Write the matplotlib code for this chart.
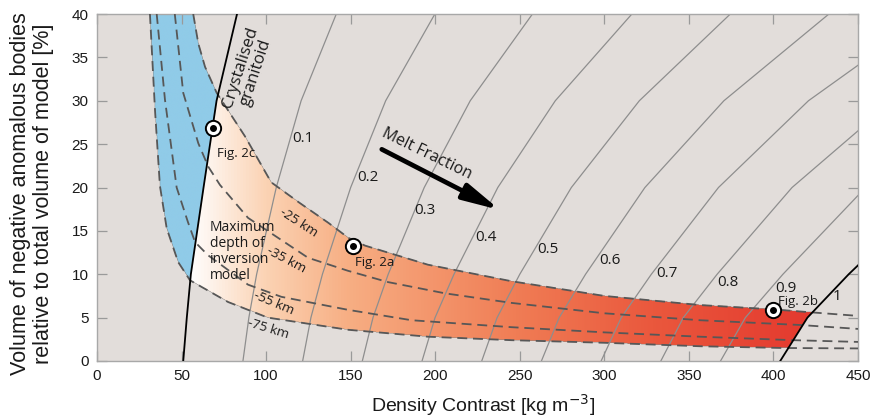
import numpy as np
import matplotlib
matplotlib.use("Agg")
import matplotlib.pyplot as plt
from matplotlib import font_manager
from matplotlib.colors import LinearSegmentedColormap, to_rgba

# --- depth curves (density contrast, volume %) ---
depth_labels = ["-25 km", "-35 km", "-55 km", "-75 km"]
c25_x = [56.9, 59.9, 63.9, 70.8, 87.5, 103, 120, 137, 148.6, 158.5, 195.7, 245, 300, 356.6, 400, 423, 450]
c25_y = [40, 36.6, 33.9, 30.9, 25.9, 20.6, 18.2, 15.9, 14.2, 13.3, 11.1, 9.2, 7.5, 6.45, 5.95, 5.6, 5.2]
c35_x = [46, 51, 59.9, 65.8, 72.7, 89.3, 124.8, 148.4, 172, 205.8, 245, 300, 356.6, 415.8, 450]
c35_y = [40, 30.9, 25.1, 22.4, 20.3, 16.5, 11.9, 10.4, 9.1, 7.8, 6.7, 5.5, 4.7, 4.15, 3.7]
c55_x = [35.3, 40.2, 47.1, 53.8, 58, 65.6, 89.3, 109, 148.4, 186, 245, 300, 356.6, 411.6, 450]
c55_y = [40, 30.1, 20, 16, 13.7, 12.2, 8.8, 7.4, 5.9, 4.7, 3.9, 3.3, 2.8, 2.4, 2.2]
c75_x = [31.3, 34.3, 37.2, 41.2, 48, 55, 77.5, 101, 148.4, 195.7, 245, 300, 356.6, 405.7, 450]
c75_y = [40, 28.9, 20.2, 15.3, 11.4, 9.3, 6.8, 5.0, 3.6, 2.8, 2.4, 2.1, 1.7, 1.5, 1.45]

# --- melt fraction lines, x at the volume levels in melt_y ---
melt_y = [0, 5, 10, 20, 30, 40]
granitoid_x = [51.0, 53.1, 55.5, 63.0, 70.7, 82.8]
melt_labels = ["0.1", "0.2", "0.3", "0.4", "0.5", "0.6", "0.7", "0.8", "0.9", "1"]
melt_x = [
    [86.3, 89.8, 94.4, 106.0, 120.7, 141.5],
    [121.6, 126.5, 133.3, 150.0, 170.7, 199.8],
    [156.9, 163.2, 172.2, 193.5, 220.7, 257.5],
    [192.2, 199.9, 211.1, 237.0, 271.0, 316.3],
    [227.5, 236.6, 250.0, 280.5, 320.7, 374.5],
    [262.8, 273.3, 288.9, 324.0, 370.7, 432.8],
    [298.1, 310.0, 327.8, 367.5, 420.7, 492.3],
    [333.4, 346.7, 366.7, 411.0, 470.7, 550.8],
    [368.7, 383.4, 405.6, 454.5, 520.7, 609.3],
    [404.0, 420.1, 444.5, 498.0, 570.7, 667.8],
]
melt_label_x = [121.8, 160.5, 194.0, 229.8, 266.4, 303.4, 336.9, 373.3, 407.4, 437.7]
melt_label_y = [25.7, 21.1, 17.3, 14.2, 12.8, 11.6, 10.1, 9.1, 8.4, 7.4]

# --- sample points ---
fig_names = ["Fig. 2c", "Fig. 2a", "Fig. 2b"]
fig_x = [68.4, 151.2, 400.0]
fig_y = [26.9, 13.2, 5.9]

x_ticks = list(range(0, 451, 50))
y_ticks = list(range(0, 41, 5))


def has_font(name):
    try:
        font_manager.findfont(font_manager.FontProperties(family=name), fallback_to_default=False)
        return True
    except Exception:
        return False


tick_font = "Liberation Sans Narrow" if has_font("Liberation Sans Narrow") else "Liberation Sans"
tick_size = 13 if tick_font == "Liberation Sans Narrow" else 11
note_font = "Open Sans"
ink = "#1a1a1a"

bg = "#e2ddda"
fig = plt.figure(figsize=(8.72, 4.18), dpi=100)
ax = fig.add_axes([97 / 872, 1 - 361 / 418, 761 / 872, 347 / 418])
ax.set_facecolor(bg)
ax.set_xlim(0, 450)
ax.set_ylim(0, 40)

# --- shaded regions (blue: solid granitoid, orange-red: melt) ---
gx = np.linspace(0, 450, 1800)
gy = np.linspace(0, 40, 700)
X, Y = np.meshgrid(gx, gy)
top = np.interp(X, c25_x, c25_y)
bot = np.interp(X, c75_x, c75_y)
xg = np.interp(Y, melt_y, granitoid_x)
x1 = np.interp(Y, melt_y, melt_x[-1])
band = (Y <= top) & (Y >= bot)
blue = band & (X < xg)
melt = band & (X >= xg) & (X <= x1)

grad = LinearSegmentedColormap.from_list("melt", [
    (0.0, "#ffffff"), (0.12, "#ffffff"), (0.22, "#fbd3b4"), (0.33, "#f7ae83"),
    (0.55, "#f07d55"), (0.73, "#ea583d"), (1.0, "#e2302a")])
rgba = np.zeros(X.shape + (4,))
rgba[melt] = grad(X[melt] / 450.0)
rgba[blue] = to_rgba("#90cbe8")
ax.imshow(rgba, extent=[0, 450, 0, 40], origin="lower", aspect="auto", zorder=1)

# --- melt fraction lines ---
for i, xs in enumerate(melt_x):
    if melt_labels[i] == "1":
        ax.plot(xs, melt_y, color="black", lw=1.3, zorder=4)
    else:
        ax.plot(xs, melt_y, color="#8e8e8e", lw=0.9, zorder=2)
    ax.text(melt_label_x[i], melt_label_y[i], melt_labels[i], fontsize=11,
            family=note_font, ha="center", va="center", color=ink, zorder=6)
ax.plot(granitoid_x, melt_y, color="black", lw=1.3, zorder=4)

# --- depth curves ---
for cx, cy in [(c25_x, c25_y), (c35_x, c35_y), (c55_x, c55_y), (c75_x, c75_y)]:
    ln, = ax.plot(cx, cy, color="#575757", lw=1.3, zorder=3)
    ln.set_dashes([5.5, 3.2])

depth_pos = [(119.5, 16.0, -33), (112.2, 11.7, -28), (104.3, 6.65, -23), (101.3, 3.7, -17)]
for lab, (tx, ty, rot) in zip(depth_labels, depth_pos):
    ax.text(tx, ty, lab, fontsize=9.5, family=note_font, rotation=rot, rotation_mode="anchor",
            ha="center", va="center", color=ink, zorder=6)

# --- sample markers ---
ax.plot(fig_x, fig_y, "o", ms=11, mfc="white", mec="black", mew=1.4, zorder=7)
ax.plot(fig_x, fig_y, "o", ms=4, color="black", zorder=8)
fig_text_pos = [(70.7, 23.9), (152.6, 11.3), (402.9, 6.85)]
for name, (tx, ty) in zip(fig_names, fig_text_pos):
    ax.text(tx, ty, name, fontsize=9.5, family=note_font, ha="left", va="center",
            color=ink, zorder=6)

# --- annotations ---
ax.text(89.5, 33.6, "Crystalised\ngranitoid", fontsize=12, family=note_font, rotation=72,
        rotation_mode="anchor", ha="center", va="center", linespacing=1.0,
        color=ink, zorder=6)
ax.text(66.8, 12.6, "Maximum\ndepth of\ninversion\nmodel", fontsize=10, family=note_font,
        ha="left", va="center", linespacing=1.1, color=ink, zorder=6)
ax.text(195.3, 23.9, "Melt Fraction", fontsize=11.5, family=note_font, rotation=-26,
        rotation_mode="anchor", ha="center", va="center", color=ink, zorder=6)
ax.annotate("", xy=(238.3, 17.4), xytext=(168.4, 24.4),
            arrowprops=dict(arrowstyle="-|>,head_length=1.1,head_width=0.25", lw=3.4,
                            color="black", shrinkA=0, shrinkB=0, mutation_scale=20),
            zorder=6)

# --- axes styling ---
ax.set_xticks(x_ticks)
ax.set_yticks(y_ticks)
ax.tick_params(direction="in", top=True, right=True, length=7, width=0.9,
               color="#9a9a9a", labelsize=tick_size, pad=6, labelcolor=ink)
for lab in ax.get_xticklabels() + ax.get_yticklabels():
    lab.set_family(tick_font)
for sp in ax.spines.values():
    sp.set_color("#a8a8a8")
    sp.set_linewidth(1.0)

fig.text(483 / 872, 1 - 405 / 418, "Density Contrast [kg m$^{-3}$]", family="Liberation Sans",
         fontsize=14, ha="center", va="center", color=ink)
fig.text(32 / 872, 1 - 194 / 418,
         "Volume of negative anomalous bodies\nrelative to total volume of model [%]",
         family="Liberation Sans", fontsize=15.5, rotation=90, ha="center", va="center",
         multialignment="center", linespacing=1.1, color=ink)

fig.savefig("out.png", dpi=100, facecolor="white")
